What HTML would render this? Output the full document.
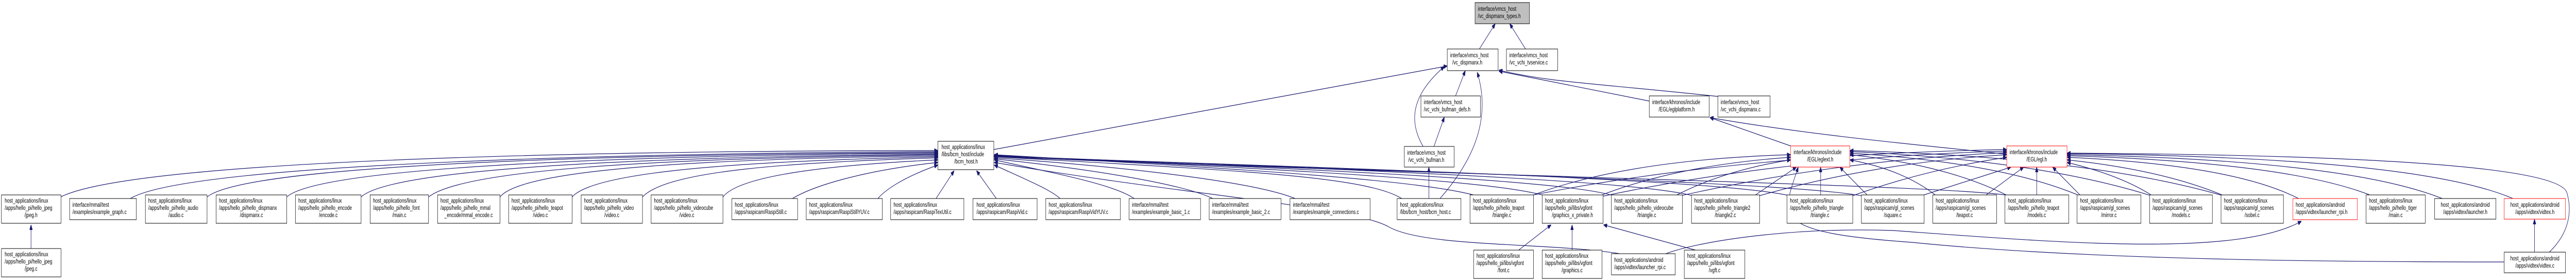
<!DOCTYPE html>
<html><head><meta charset="utf-8"><style>
html,body{margin:0;padding:0;background:#fff;width:100%;height:100%;overflow:hidden;}
svg{display:block;width:100vw;height:100vh;overflow:hidden}
text{font-family:"Liberation Sans",sans-serif;font-size:12px;fill:#000}
.e{fill:none;stroke:#191970;stroke-width:1.2;marker-start:url(#a)}
rect{fill:#fff;stroke:#000;stroke-width:1}
.r{stroke:#ff0000}
.g{fill:#bfbfbf}
</style></head><body>
<svg viewBox="0 0 7141 543" preserveAspectRatio="none" xmlns="http://www.w3.org/2000/svg">
<defs><marker id="a" markerWidth="10" markerHeight="8" refX="10" refY="4" orient="auto-start-reverse" markerUnits="userSpaceOnUse"><path d="M0,0 L10,4 L0,8 z" fill="#191970" stroke="#191970"/></marker></defs>

<path class="e" d="M4145,46 L4101,95"/>
<path class="e" d="M4185,46 L4229,95"/>
<path class="e" d="M4062,137 L4035,186"/>
<path class="e" d="M4004,227 L3975,284"/>
<path class="e" d="M4004,129 C3920,180 3900,230 3945,284"/>
<path class="e" d="M4095,140 C4130,220 4100,300 3988,388"/>
<path class="e" d="M3961,324 L3961,388"/>
<path class="e" d="M4012,128 L2755,290"/>
<path class="e" d="M4155,138 L4572,196"/>
<path class="e" d="M4155,136 C4300,160 4400,160 4762,187"/>
<path class="e" d="M4740,228 L4964,283"/>
<path class="e" d="M4740,228 C5000,260 5300,280 5563,299"/>
<path class="e" d="M86,436 L86,485"/>
<path class="e" d="M4300,436 L4210,485"/>
<path class="e" d="M4358,436 L4358,485"/>
<path class="e" d="M4445,436 L4700,485"/>
<path class="e" d="M7026,425 L7026,489"/>

<path class="e" d="M2600,292 C2000,292 400,300 168,382"/>
<path class="e" d="M2600,294 C2000,296 500,310 355,388"/>
<path class="e" d="M2600,296 C2000,298 700,310 574,382"/>
<path class="e" d="M2600,297 C2000,300 900,315 795,382"/>
<path class="e" d="M2600,299 C2000,303 1100,318 1001,382"/>
<path class="e" d="M2600,300 C2000,306 1300,320 1188,382"/>
<path class="e" d="M2600,302 C2000,308 1450,325 1386,382"/>
<path class="e" d="M2600,304 C2100,312 1650,330 1586,382"/>
<path class="e" d="M2600,306 C2200,315 1850,330 1781,382"/>
<path class="e" d="M2600,310 C2300,320 2050,340 2004,382"/>
<path class="e" d="M2600,315 C2400,330 2250,360 2190,388"/>
<path class="e" d="M2600,320 C2500,345 2450,370 2430,388"/>
<path class="e" d="M2645,331 L2592,388"/>
<path class="e" d="M2707,331 L2765,388"/>
<path class="e" d="M2756,320 C2850,350 2920,370 2943,388"/>
<path class="e" d="M2756,310 C2950,340 3100,360 3150,388"/>
<path class="e" d="M2756,308 C3050,330 3300,360 3370,388"/>
<path class="e" d="M2756,306 C3150,325 3500,355 3600,388"/>
<path class="e" d="M2756,304 C3400,330 3800,340 3892,388"/>
<path class="e" d="M2756,300 C3500,330 3950,350 4100,381"/>
<path class="e" d="M2756,301 C3600,330 4150,350 4290,381"/>
<path class="e" d="M2756,302 C3700,330 4350,350 4480,381"/>
<path class="e" d="M2756,302 C3800,330 4550,350 4700,381"/>
<path class="e" d="M2756,303 C3900,330 4800,350 4970,381"/>
<path class="e" d="M2756,303 C4000,335 5000,355 5170,381"/>
<path class="e" d="M2756,304 C4000,340 5500,360 5580,381"/>
<path class="e" d="M2756,315 C3300,380 3750,400 3850,440 C3950,480 4300,470 4490,492"/>

<path class="e" d="M4964,300 Q4500,310 4240,381"/>
<path class="e" d="M4964,305 Q4650,320 4430,381"/>
<path class="e" d="M4964,310 Q4780,330 4640,381"/>
<path class="e" d="M4980,324 L4860,381"/>
<path class="e" d="M5047,324 L5047,381"/>
<path class="e" d="M5100,324 L5180,381"/>
<path class="e" d="M5128,310 Q5280,330 5370,381"/>
<path class="e" d="M5128,300 Q5400,320 5570,381"/>
<path class="e" d="M5128,297 Q5550,315 5770,381"/>
<path class="e" d="M5128,294 Q5650,310 5970,381"/>
<path class="e" d="M5128,292 Q5800,305 6170,381"/>

<path class="e" d="M5563,290 Q4800,300 4230,381"/>
<path class="e" d="M5563,293 Q4950,305 4440,381"/>
<path class="e" d="M5563,296 Q5100,310 4650,381"/>
<path class="e" d="M5563,300 Q5200,315 4870,381"/>
<path class="e" d="M5563,305 Q5330,330 5130,381"/>
<path class="e" d="M5575,324 L5320,381"/>
<path class="e" d="M5610,324 L5500,381"/>
<path class="e" d="M5646,324 L5646,381"/>
<path class="e" d="M5690,324 L5770,381"/>
<path class="e" d="M5730,315 Q5880,340 5970,381"/>
<path class="e" d="M5730,310 Q6000,330 6170,381"/>
<path class="e" d="M5730,305 Q6200,320 6380,388"/>
<path class="e" d="M5730,302 Q6350,315 6580,381"/>
<path class="e" d="M5730,300 Q6500,310 6770,385"/>
<path class="e" d="M5730,298 Q6700,305 6966,385"/>
<path class="e" d="M5730,297 C6500,300 7080,320 7115,372 C7136,420 7110,460 7067,489"/>
<path class="e" d="M4985,324 C4940,420 4900,450 5300,470 C5800,505 6500,508 6941,508"/>
<path class="e" d="M6380,429 C6200,500 5700,470 5248,447 C4950,440 4700,470 4618,492"/>

<rect class="g" x="4089" y="5" width="151" height="41"/><text x="4097" y="21">interface/vmcs_host</text><text x="4097" y="35">/vc_dispmanx_types.h</text>
<rect x="4012" y="95" width="141" height="42"/><text x="4020" y="111">interface/vmcs_host</text><text x="4026" y="125">/vc_dispmanx.h</text>
<rect x="4176" y="95" width="142" height="42"/><text x="4184" y="111">interface/vmcs_host</text><text x="4184" y="125">/vc_vchi_tvservice.c</text>
<rect x="3939" y="186" width="165" height="41"/><text x="3947" y="202">interface/vmcs_host</text><text x="3947" y="216">/vc_vchi_bufman_defs.h</text>
<rect x="3893" y="284" width="138" height="40"/><text x="3901" y="300">interface/vmcs_host</text><text x="3904" y="314">/vc_vchi_bufman.h</text>
<rect x="4572" y="186" width="166" height="41"/><text x="4580" y="202">interface/khronos/include</text><text x="4598" y="216">/EGL/eglplatform.h</text>
<rect x="4762" y="186" width="145" height="41"/><text x="4770" y="202">interface/vmcs_host</text><text x="4770" y="216">/vc_vchi_dispmanx.c</text>
<rect x="2600" y="274" width="155" height="55"/><text x="2610" y="289">host_applications/linux</text><text x="2610" y="303">/libs/bcm_host/include</text><text x="2678" y="317" text-anchor="middle">/bcm_host.h</text>
<rect class="r" x="4964" y="283" width="164" height="41"/><text x="4972" y="299">interface/khronos/include</text><text x="5046" y="313" text-anchor="middle">/EGL/eglext.h</text>
<rect class="r" x="5563" y="283" width="167" height="41"/><text x="5571" y="299">interface/khronos/include</text><text x="5646" y="313" text-anchor="middle">/EGL/egl.h</text>

<rect x="4" y="378" width="165" height="55"/><text x="13" y="393">host_applications/linux</text><text x="13" y="407">/apps/hello_pi/hello_jpeg</text><text x="86" y="421" text-anchor="middle">/jpeg.h</text>
<rect x="193" y="385" width="185" height="41"/><text x="201" y="401">interface/mmal/test</text><text x="201" y="415">/examples/example_graph.c</text>
<rect x="403" y="378" width="171" height="55"/><text x="411" y="393">host_applications/linux</text><text x="411" y="407">/apps/hello_pi/hello_audio</text><text x="488" y="421" text-anchor="middle">/audio.c</text>
<rect x="599" y="378" width="196" height="55"/><text x="607" y="393">host_applications/linux</text><text x="607" y="407">/apps/hello_pi/hello_dispmanx</text><text x="697" y="421" text-anchor="middle">/dispmanx.c</text>
<rect x="819" y="378" width="182" height="55"/><text x="827" y="393">host_applications/linux</text><text x="827" y="407">/apps/hello_pi/hello_encode</text><text x="910" y="421" text-anchor="middle">/encode.c</text>
<rect x="1026" y="378" width="162" height="55"/><text x="1034" y="393">host_applications/linux</text><text x="1034" y="407">/apps/hello_pi/hello_font</text><text x="1107" y="421" text-anchor="middle">/main.c</text>
<rect x="1213" y="378" width="173" height="55"/><text x="1221" y="393">host_applications/linux</text><text x="1221" y="407">/apps/hello_pi/hello_mmal</text><text x="1299" y="421" text-anchor="middle">_encode/mmal_encode.c</text>
<rect x="1410" y="378" width="176" height="55"/><text x="1418" y="393">host_applications/linux</text><text x="1418" y="407">/apps/hello_pi/hello_teapot</text><text x="1498" y="421" text-anchor="middle">/video.c</text>
<rect x="1611" y="378" width="170" height="55"/><text x="1619" y="393">host_applications/linux</text><text x="1619" y="407">/apps/hello_pi/hello_video</text><text x="1696" y="421" text-anchor="middle">/video.c</text>
<rect x="1805" y="378" width="199" height="55"/><text x="1813" y="393">host_applications/linux</text><text x="1813" y="407">/apps/hello_pi/hello_videocube</text><text x="1904" y="421" text-anchor="middle">/video.c</text>
<rect x="2029" y="385" width="182" height="41"/><text x="2037" y="401">host_applications/linux</text><text x="2037" y="415">/apps/raspicam/RaspiStill.c</text>
<rect x="2235" y="385" width="211" height="41"/><text x="2243" y="401">host_applications/linux</text><text x="2243" y="415">/apps/raspicam/RaspiStillYUV.c</text>
<rect x="2469" y="385" width="203" height="41"/><text x="2477" y="401">host_applications/linux</text><text x="2477" y="415">/apps/raspicam/RaspiTexUtil.c</text>
<rect x="2697" y="385" width="178" height="41"/><text x="2707" y="401">host_applications/linux</text><text x="2707" y="415">/apps/raspicam/RaspiVid.c</text>
<rect x="2899" y="385" width="207" height="41"/><text x="2907" y="401">host_applications/linux</text><text x="2907" y="415">/apps/raspicam/RaspiVidYUV.c</text>
<rect x="3130" y="385" width="198" height="41"/><text x="3138" y="401">interface/mmal/test</text><text x="3138" y="415">/examples/example_basic_1.c</text>
<rect x="3352" y="385" width="199" height="41"/><text x="3360" y="401">interface/mmal/test</text><text x="3360" y="415">/examples/example_basic_2.c</text>
<rect x="3576" y="385" width="222" height="41"/><text x="3584" y="401">interface/mmal/test</text><text x="3584" y="415">/examples/example_connections.c</text>
<rect x="3873" y="385" width="177" height="41"/><text x="3881" y="401">host_applications/linux</text><text x="3881" y="415">/libs/bcm_host/bcm_host.c</text>
<rect x="4075" y="378" width="176" height="55"/><text x="4083" y="393">host_applications/linux</text><text x="4083" y="407">/apps/hello_pi/hello_teapot</text><text x="4163" y="421" text-anchor="middle">/triangle.c</text>
<rect x="4275" y="378" width="169" height="55"/><text x="4283" y="393">host_applications/linux</text><text x="4283" y="407">/apps/hello_pi/libs/vgfont</text><text x="4359" y="421" text-anchor="middle">/graphics_x_private.h</text>
<rect x="4467" y="378" width="197" height="55"/><text x="4475" y="393">host_applications/linux</text><text x="4475" y="407">/apps/hello_pi/hello_videocube</text><text x="4565" y="421" text-anchor="middle">/triangle.c</text>
<rect x="4689" y="378" width="189" height="55"/><text x="4697" y="393">host_applications/linux</text><text x="4697" y="407">/apps/hello_pi/hello_triangle2</text><text x="4783" y="421" text-anchor="middle">/triangle2.c</text>
<rect x="4954" y="378" width="182" height="55"/><text x="4962" y="393">host_applications/linux</text><text x="4962" y="407">/apps/hello_pi/hello_triangle</text><text x="5045" y="421" text-anchor="middle">/triangle.c</text>
<rect x="5160" y="378" width="174" height="55"/><text x="5168" y="393">host_applications/linux</text><text x="5168" y="407">/apps/raspicam/gl_scenes</text><text x="5247" y="421" text-anchor="middle">/square.c</text>
<rect x="5358" y="378" width="177" height="55"/><text x="5366" y="393">host_applications/linux</text><text x="5366" y="407">/apps/raspicam/gl_scenes</text><text x="5446" y="421" text-anchor="middle">/teapot.c</text>
<rect x="5558" y="378" width="177" height="55"/><text x="5566" y="393">host_applications/linux</text><text x="5566" y="407">/apps/hello_pi/hello_teapot</text><text x="5646" y="421" text-anchor="middle">/models.c</text>
<rect x="5758" y="378" width="177" height="55"/><text x="5766" y="393">host_applications/linux</text><text x="5766" y="407">/apps/raspicam/gl_scenes</text><text x="5846" y="421" text-anchor="middle">/mirror.c</text>
<rect x="5959" y="378" width="174" height="55"/><text x="5967" y="393">host_applications/linux</text><text x="5967" y="407">/apps/raspicam/gl_scenes</text><text x="6046" y="421" text-anchor="middle">/models.c</text>
<rect x="6157" y="378" width="173" height="55"/><text x="6165" y="393">host_applications/linux</text><text x="6165" y="407">/apps/raspicam/gl_scenes</text><text x="6243" y="421" text-anchor="middle">/sobel.c</text>
<rect class="r" x="6356" y="385" width="179" height="41"/><text x="6364" y="401">host_applications/android</text><text x="6364" y="415">/apps/vidtex/launcher_rpi.h</text>
<rect x="6559" y="378" width="164" height="55"/><text x="6567" y="393">host_applications/linux</text><text x="6567" y="407">/apps/hello_pi/hello_tiger</text><text x="6641" y="421" text-anchor="middle">/main.c</text>
<rect x="6749" y="385" width="170" height="40"/><text x="6834" y="401" text-anchor="middle">host_applications/android</text><text x="6834" y="415" text-anchor="middle">/apps/vidtex/launcher.h</text>
<rect class="r" x="6942" y="385" width="170" height="40"/><text x="7027" y="401" text-anchor="middle">host_applications/android</text><text x="7027" y="415" text-anchor="middle">/apps/vidtex/vidtex.h</text>

<rect x="4" y="482" width="165" height="55"/><text x="13" y="497">host_applications/linux</text><text x="13" y="511">/apps/hello_pi/hello_jpeg</text><text x="86" y="525" text-anchor="middle">/jpeg.c</text>
<rect x="4085" y="485" width="166" height="55"/><text x="4093" y="500">host_applications/linux</text><text x="4093" y="514">/apps/hello_pi/libs/vgfont</text><text x="4168" y="528" text-anchor="middle">/font.c</text>
<rect x="4275" y="485" width="166" height="55"/><text x="4283" y="500">host_applications/linux</text><text x="4283" y="514">/apps/hello_pi/libs/vgfont</text><text x="4358" y="528" text-anchor="middle">/graphics.c</text>
<rect x="4467" y="492" width="177" height="41"/><text x="4475" y="508">host_applications/android</text><text x="4475" y="522">/apps/vidtex/launcher_rpi.c</text>
<rect x="4669" y="485" width="168" height="55"/><text x="4677" y="500">host_applications/linux</text><text x="4677" y="514">/apps/hello_pi/libs/vgfont</text><text x="4753" y="528" text-anchor="middle">/vgft.c</text>
<rect x="6942" y="489" width="170" height="40"/><text x="7027" y="505" text-anchor="middle">host_applications/android</text><text x="7027" y="519" text-anchor="middle">/apps/vidtex/vidtex.c</text>
</svg>
</body></html>
